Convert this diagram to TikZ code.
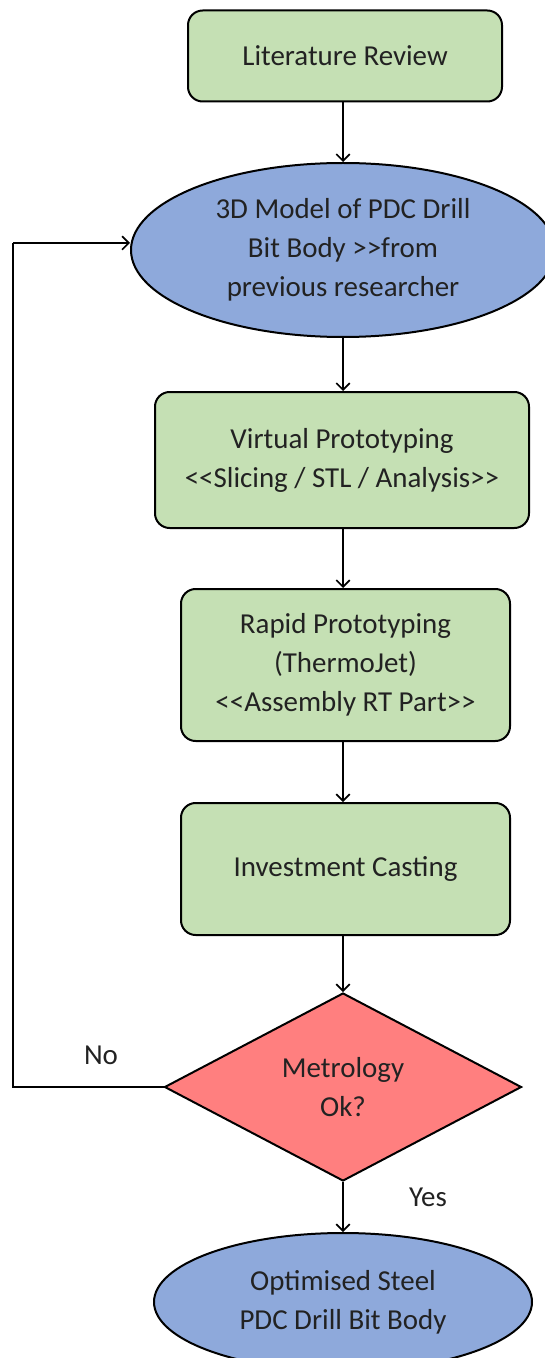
\documentclass[tikz,border=0pt]{standalone}
\usepackage{fontspec}
\setmainfont{Carlito}
\usetikzlibrary{arrows.meta,shapes.geometric}
\definecolor{boxgreen}{HTML}{C5E0B4}
\definecolor{ellblue}{HTML}{8EA9DB}
\definecolor{diared}{HTML}{FF7F7F}
\definecolor{txt}{HTML}{222222}
\begin{document}
\begin{tikzpicture}[x=0.75pt,y=-0.75pt,
  every node/.style={font=\fontsize{21.7}{29.3}\selectfont, text=txt, align=center},
  greenbox/.style={draw=black, line width=1.5pt, fill=boxgreen, rounded corners=11pt, inner sep=0pt},
  blueell/.style={draw=black, line width=1.5pt, fill=ellblue, ellipse, inner sep=0pt},
  conn/.style={draw=black, line width=1.5pt, -{Straight Barb[length=5pt,width=10pt,line width=1.3pt]}},
  plain/.style={draw=black, line width=1.2pt}]
\useasboundingbox (0,0) rectangle (545,1358);
\clip (0,0) rectangle (545,1358);
\fill[white] (0,0) rectangle (545,1358);
% nodes
\node[greenbox, minimum width=314*0.75pt, minimum height=91*0.75pt] (lit) at (345,56) {Literature Review};
\node[blueell, minimum width=424*0.75pt, minimum height=174*0.75pt] (model) at (343,250) {3D Model of PDC Drill\\Bit Body >{}>from\\previous researcher};
\node[greenbox, minimum width=374*0.75pt, minimum height=136*0.75pt] (vp) at (342,460) {Virtual Prototyping\\<{}<Slicing / STL / Analysis>{}>};
\node[greenbox, minimum width=329*0.75pt, minimum height=152*0.75pt] (rp) at (345.5,665) {Rapid Prototyping\\(ThermoJet)\\<{}<Assembly RT Part>{}>};
\node[greenbox, minimum width=329*0.75pt, minimum height=132*0.75pt] (ic) at (345.5,869) {Investment Casting};
\node[diamond, draw=black, line width=1.5pt, fill=diared, minimum width=357*0.75pt, minimum height=188*0.75pt, inner sep=0pt, shape aspect=1.9] (met) at (343,1087) {Metrology\\Ok?};
\node[blueell, minimum width=378*0.75pt, minimum height=138*0.75pt] (opt) at (343,1302) {Optimised Steel\\PDC Drill Bit Body};
% connectors
\draw[conn] (lit.south -| 343,0) -- (model.north -| 343,0);
\draw[conn] (model.south -| 343,0) -- (vp.north -| 343,0);
\draw[conn] (vp.south -| 343,0) -- (rp.north -| 343,0);
\draw[conn] (rp.south -| 343,0) -- (ic.north -| 343,0);
\draw[conn] (ic.south -| 343,0) -- (met.north);
\draw[conn] (met.south) -- (opt.north);
\coordinate (lb) at (13,1087);
\coordinate (lt) at (13,243);
\draw[plain] (met.west) -- (lb) -- (lt);
\draw[conn, line width=1.2pt] (lt) -- (model.west |- lt);
% labels
\node (no) at (101,1055) {No};
\node (yes) at (428,1197) {Yes};
\end{tikzpicture}
\end{document}
